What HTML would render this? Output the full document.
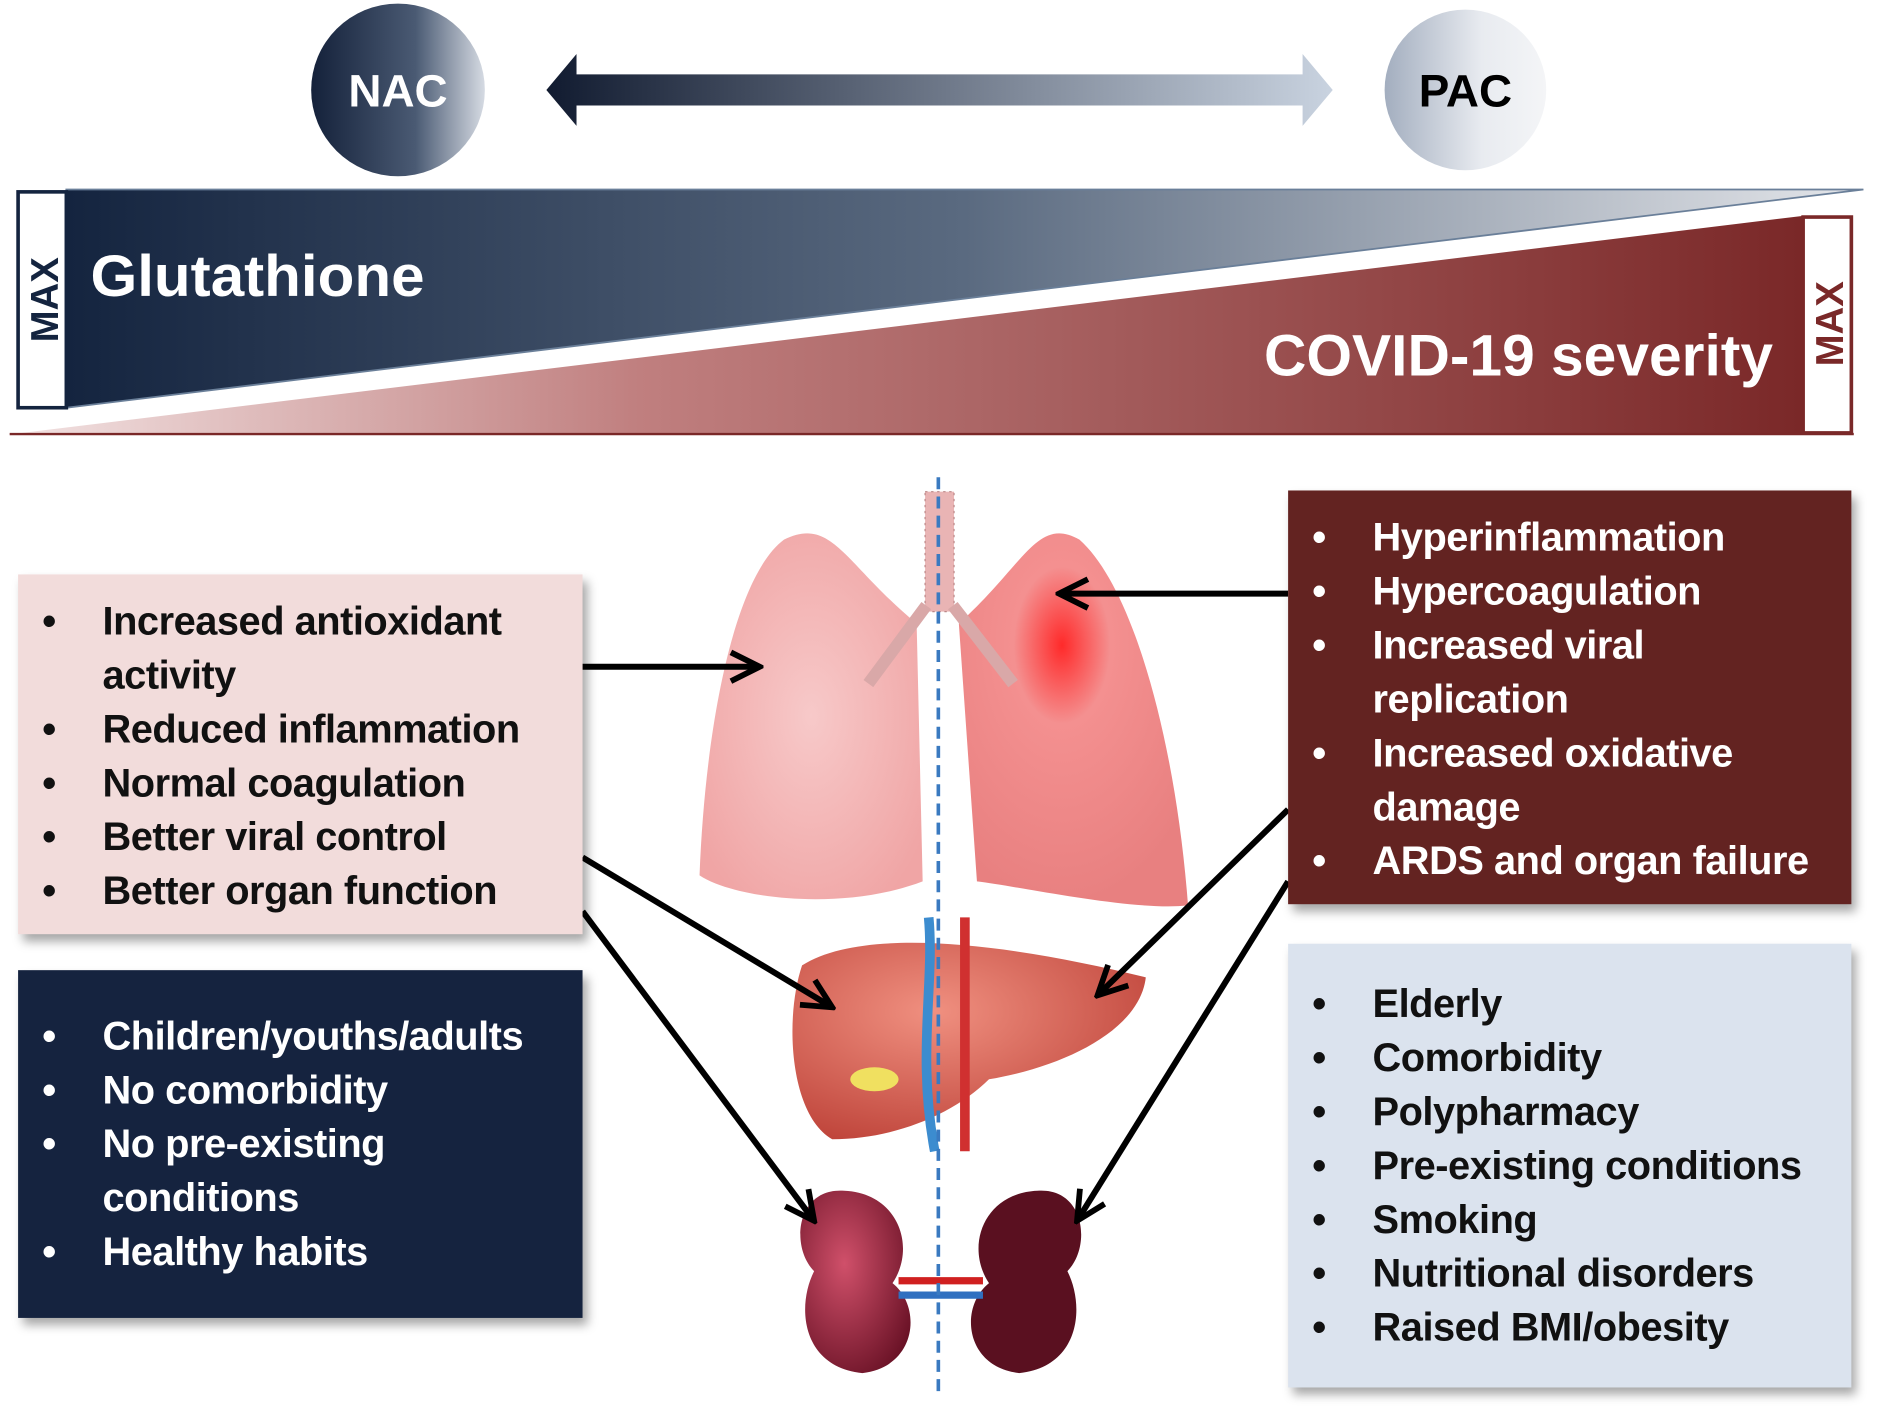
<!DOCTYPE html>
<html><head><meta charset="utf-8">
<style>
html,body{margin:0;padding:0;background:#fff;}
body{width:1890px;height:1427px;overflow:hidden;position:relative;}
#s{position:absolute;left:0;top:0;width:1567px;height:1190px;transform:scale(1.2061,1.1992);transform-origin:0 0;font-family:"Liberation Sans",sans-serif;font-weight:bold;}
.box{position:absolute;box-shadow:4px 6px 8px rgba(0,0,0,0.35);}
.box ul{list-style:none;margin:0;padding:0;position:absolute;}
.box li{position:relative;font-size:33px;line-height:45px;padding-left:70px;letter-spacing:-0.4px;white-space:nowrap;}
.box li.b::before{content:"•";position:absolute;left:20px;}
</style></head><body><div id="s">
<svg width="1567" height="1190" style="position:absolute;left:0;top:0">
<defs>
<linearGradient id="nac" x1="0" x2="1"><stop offset="0" stop-color="#14213a"/><stop offset="0.6" stop-color="#4a5a73"/><stop offset="1" stop-color="#d6dbe3"/></linearGradient>
<linearGradient id="pac" x1="0" x2="1"><stop offset="0" stop-color="#a3aebf"/><stop offset="0.6" stop-color="#e8ebf0"/><stop offset="1" stop-color="#f4f5f7"/></linearGradient>
<linearGradient id="arr" x1="0" x2="1"><stop offset="0" stop-color="#111b30"/><stop offset="1" stop-color="#c9d3e0"/></linearGradient>
<linearGradient id="blue" x1="0" x2="1"><stop offset="0" stop-color="#14243f"/><stop offset="0.5" stop-color="#5a6a80"/><stop offset="1" stop-color="#e4e6ea"/></linearGradient>
<linearGradient id="red" x1="0" x2="1"><stop offset="0" stop-color="#f2e2e2"/><stop offset="0.35" stop-color="#c07f7f"/><stop offset="1" stop-color="#7a2828"/></linearGradient>
<radialGradient id="lung" cx="0.5" cy="0.5" r="0.6"><stop offset="0" stop-color="#f7c9c9"/><stop offset="1" stop-color="#f0a5a5"/></radialGradient>
<radialGradient id="lungR" cx="0.45" cy="0.3" r="0.7"><stop offset="0" stop-color="#ff2a2a"/><stop offset="0.3" stop-color="#f49090"/><stop offset="1" stop-color="#e88080"/></radialGradient>
<radialGradient id="kid" cx="0.4" cy="0.4" r="0.7"><stop offset="0" stop-color="#d0506a"/><stop offset="1" stop-color="#6a1226"/></radialGradient>
<radialGradient id="liv" cx="0.4" cy="0.35" r="0.7"><stop offset="0" stop-color="#f09080"/><stop offset="1" stop-color="#c0463c"/></radialGradient>
<marker id="ah" viewBox="0 0 10 10" refX="9" refY="5" markerWidth="6" markerHeight="6" orient="auto"><path d="M1,1 L9,5 L1,9" fill="none" stroke="#000" stroke-width="1.6"/></marker>
</defs>
<circle cx="330" cy="75" r="72" fill="url(#nac)"/>
<circle cx="1215" cy="75" r="67" fill="url(#pac)"/>
<text x="330" y="89" fill="#fff" font-size="38" text-anchor="middle" font-weight="bold">NAC</text>
<text x="1215" y="89" fill="#000" font-size="38" text-anchor="middle" font-weight="bold">PAC</text>
<path d="M453,75 L478,45 L478,62 L1080,62 L1080,45 L1105,75 L1080,105 L1080,88 L478,88 L478,105 Z" fill="url(#arr)"/>
<polygon points="55,158 1545,158 55,340" fill="url(#blue)" stroke="#6a7f99" stroke-width="1.5"/>
<rect x="15" y="160" width="40" height="180" fill="#fff" stroke="#14243f" stroke-width="3"/>
<text transform="translate(48,250) rotate(-90)" fill="#14243f" font-size="32" text-anchor="middle" font-weight="bold">MAX</text>
<polygon points="10,362 1495,180 1495,362" fill="url(#red)"/>
<line x1="8" y1="362" x2="1537" y2="362" stroke="#7a2828" stroke-width="2"/>
<rect x="1495" y="181" width="40" height="180" fill="#fff" stroke="#7a2828" stroke-width="3"/>
<text transform="translate(1528,270) rotate(-90)" fill="#7a2828" font-size="32" text-anchor="middle" font-weight="bold">MAX</text>
<text x="75" y="247" fill="#fff" font-size="49" font-weight="bold" textLength="277" lengthAdjust="spacingAndGlyphs">Glutathione</text>
<text x="1048" y="313" fill="#fff" font-size="49" font-weight="bold" textLength="422" lengthAdjust="spacingAndGlyphs">COVID-19 severity</text>
<path d="M760,520 C700,470 690,430 650,450 C610,480 585,600 580,730 C610,750 700,760 765,735 Z" fill="url(#lung)"/>
<path d="M795,520 C850,470 860,430 895,450 C940,490 975,620 985,755 C940,760 850,740 810,735 Z" fill="url(#lungR)"/>
<rect x="767" y="410" width="24" height="100" fill="#e9b4b4" stroke="#b88" stroke-dasharray="2,3"/>
<path d="M768,505 L720,570 M790,505 L840,570" stroke="#d9a8a8" stroke-width="10" fill="none"/>
<path d="M665,805 C720,770 850,790 950,815 C945,860 880,890 820,900 C790,930 740,950 690,950 C655,930 650,850 665,805 Z" fill="url(#liv)"/>
<path d="M770,765 C775,820 760,880 775,960" stroke="#3c8ccf" stroke-width="8" fill="none"/>
<path d="M800,765 L800,960" stroke="#d03030" stroke-width="8"/>
<ellipse cx="725" cy="900" rx="20" ry="10" fill="#f0e060"/>
<path d="M700,993 C660,990 655,1040 675,1060 C660,1090 665,1140 715,1145 C760,1140 765,1090 740,1070 C760,1040 745,995 700,993 Z" fill="url(#kid)"/>
<path d="M860,993 C900,990 905,1040 885,1060 C900,1090 895,1140 845,1145 C800,1140 795,1090 820,1070 C800,1040 815,995 860,993 Z" fill="#5a1020"/>
<path d="M745,1068 L815,1068" stroke="#d02020" stroke-width="6"/>
<path d="M745,1080 L815,1080" stroke="#3070c0" stroke-width="6"/>
<line x1="778" y1="398" x2="778" y2="1165" stroke="#3a7ac0" stroke-width="3" stroke-dasharray="10,6"/>
<g stroke="#000" stroke-width="5" fill="none" marker-end="url(#ah)">
<line x1="483" y1="556" x2="630" y2="556"/>
<line x1="1068" y1="495" x2="878" y2="495"/>
<line x1="483" y1="715" x2="690" y2="840"/>
<line x1="483" y1="760" x2="675" y2="1018"/>
<line x1="1068" y1="675" x2="910" y2="830"/>
<line x1="1068" y1="735" x2="893" y2="1018"/>
</g>
</svg>
<div class="box" style="left:15px;top:479px;width:468px;height:300px;background:#f2dcdb;color:#111;">
<ul style="top:16px;left:0"><li class="b">Increased antioxidant</li><li>activity</li><li class="b">Reduced inflammation</li><li class="b">Normal coagulation</li><li class="b">Better viral control</li><li class="b">Better organ function</li></ul></div>
<div class="box" style="left:15px;top:809px;width:468px;height:290px;background:#15233f;color:#fff;">
<ul style="top:32px;left:0"><li class="b">Children/youths/adults</li><li class="b">No comorbidity</li><li class="b">No pre-existing</li><li>conditions</li><li class="b">Healthy habits</li></ul></div>
<div class="box" style="left:1068px;top:409px;width:467px;height:345px;background:#632321;color:#fff;">
<ul style="top:16px;left:0"><li class="b">Hyperinflammation</li><li class="b">Hypercoagulation</li><li class="b">Increased viral</li><li>replication</li><li class="b">Increased oxidative</li><li>damage</li><li class="b">ARDS and organ failure</li></ul></div>
<div class="box" style="left:1068px;top:787px;width:467px;height:370px;background:#dbe3ee;color:#111;">
<ul style="top:27px;left:0"><li class="b">Elderly</li><li class="b">Comorbidity</li><li class="b">Polypharmacy</li><li class="b">Pre-existing conditions</li><li class="b">Smoking</li><li class="b">Nutritional disorders</li><li class="b">Raised BMI/obesity</li></ul></div>
</div></body></html>
